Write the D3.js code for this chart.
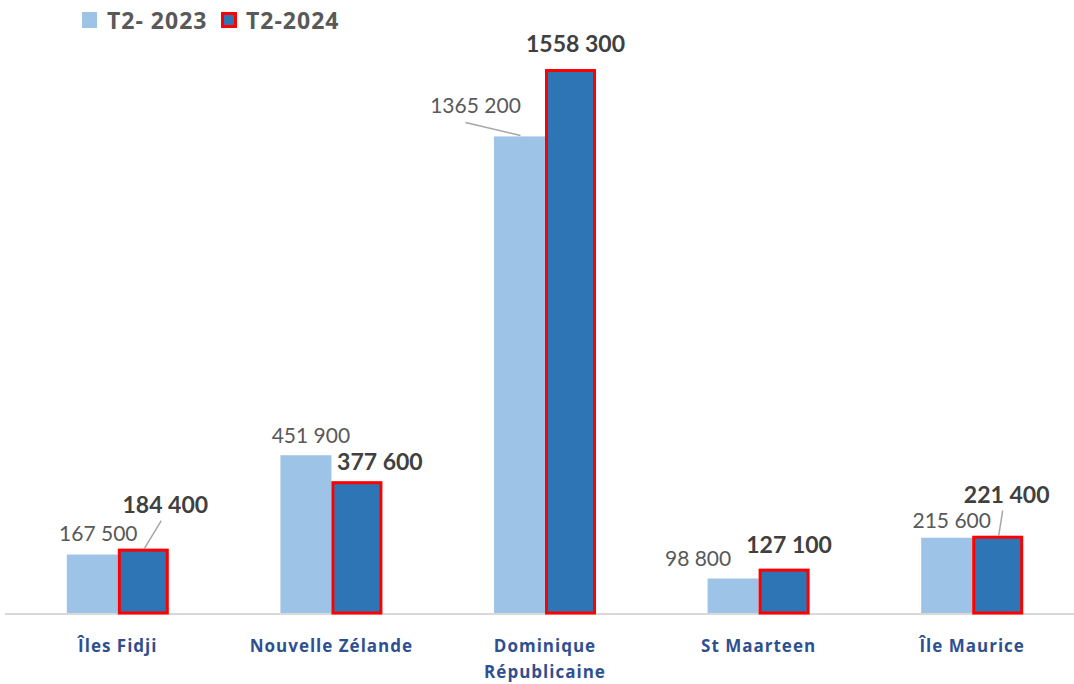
<!DOCTYPE html>
<html>
<head>
<meta charset="utf-8">
<script src="https://cdn.jsdelivr.net/npm/d3@7"></script>
<style>
  body { margin: 0; background: #fff; }
  svg { display: block; font-family: "Lato", "Open Sans", sans-serif; }
</style>
</head>
<body>
<svg width="1074" height="684"></svg>
<script>
const categories = ["Îles Fidji", "Nouvelle Zélande", "Dominique\nRépublicaine", "St Maarteen", "Île Maurice"];
const keys = ["T2- 2023", "T2-2024"];
const values2023 = [167500, 451900, 1365200, 98800, 215600];
const values2024 = [184400, 377600, 1558300, 127100, 221400];

// label nudges (dx, dy from bar top centre), leader lines where Excel drew them
const labelOffset2023 = [[6, -14], [5, -12], [-44, -23], [-35, -13], [5, -10]];
const labelOffset2024 = [[22, -36], [23, -11], [5, -17], [5, -16], [9, -33]];
const leader2023 = [false, false, true, false, false];
const leader2024 = [true, false, false, false, true];

const svg = d3.select("svg");
const baseY = 613;

const data = categories.map((c, i) => ({ cat: c, i, v: [values2023[i], values2024[i]] }));

const x0 = d3.scaleBand().domain(categories).range([11, 1079]).padding(0);
const barW = 51;
const x1 = d3.scaleBand().domain(keys)
  .range([x0.bandwidth() / 2 - barW, x0.bandwidth() / 2 + barW]).padding(0);
const y = d3.scaleLinear().domain([0, 1756000]).range([baseY, 0]);

const colors = ["#9DC3E6", "#2E75B6"];

// axis line
svg.append("line")
  .attr("x1", 5).attr("x2", 1074)
  .attr("y1", baseY + 1).attr("y2", baseY + 1)
  .attr("stroke", "#d9d9d9").attr("stroke-width", 2);

const groups = svg.selectAll(".cat")
  .data(data)
  .enter().append("g")
  .attr("class", "cat")
  .attr("transform", d => `translate(${x0(d.cat)},0)`);

// light bars
groups.append("rect")
  .attr("x", x1(keys[0]))
  .attr("y", d => y(d.v[0]))
  .attr("width", x1.bandwidth())
  .attr("height", d => baseY - y(d.v[0]))
  .attr("fill", colors[0]);

// dark bars with red outline
groups.append("rect")
  .attr("x", x1(keys[1]) + 1.5)
  .attr("y", d => y(d.v[1]) + 1.5)
  .attr("width", x1.bandwidth() - 3)
  .attr("height", d => baseY - y(d.v[1]) - 1.5)
  .attr("fill", colors[1])
  .attr("stroke", "#FF0000")
  .attr("stroke-width", 3);

// Excel-style: only the last group of thousands is split off
const fmt = v => Math.floor(v / 1000) + " " + String(v % 1000).padStart(3, "0");

// 2023 labels
groups.each(function(d) {
  const g = d3.select(this);
  const cx = x1(keys[0]) + x1.bandwidth() / 2;
  const top = y(d.v[0]);
  const [dx, dy] = labelOffset2023[d.i];
  if (leader2023[d.i]) {
    g.append("line")
      .attr("x1", cx + dx - 10).attr("y1", top + dy + 9)
      .attr("x2", cx + 1).attr("y2", top - 1)
      .attr("stroke", "#a6a6a6").attr("stroke-width", 1.5);
  }
  g.append("text")
    .attr("x", cx + dx).attr("y", top + dy)
    .attr("text-anchor", "middle")
    .attr("fill", "#595959")
    .style("font-size", "21px")
    .style("font-weight", "normal")
    .text(fmt(d.v[0]));
});

// 2024 labels
groups.each(function(d) {
  const g = d3.select(this);
  const cx = x1(keys[1]) + x1.bandwidth() / 2;
  const top = y(d.v[1]);
  const [dx, dy] = labelOffset2024[d.i];
  if (leader2024[d.i]) {
    g.append("line")
      .attr("x1", cx + dx - 4).attr("y1", top + dy + 8)
      .attr("x2", cx + 1).attr("y2", top)
      .attr("stroke", "#a6a6a6").attr("stroke-width", 1.5);
  }
  g.append("text")
    .attr("x", cx + dx).attr("y", top + dy)
    .attr("text-anchor", "middle")
    .attr("fill", "#404040")
    .style("font-size", "23px")
    .style("font-weight", "bold")
    .text(fmt(d.v[1]));
});

// category labels
groups.append("text")
  .attr("x", x0.bandwidth() / 2)
  .attr("y", 652)
  .attr("text-anchor", "middle")
  .attr("fill", "#2F5090")
  .style("font-family", "'Open Sans', sans-serif")
  .style("font-size", "17px")
  .style("font-weight", "bold")
  .style("letter-spacing", "1px")
  .selectAll("tspan")
  .data(d => d.cat.split("\n"))
  .enter().append("tspan")
  .attr("x", x0.bandwidth() / 2)
  .attr("dy", (t, i) => i === 0 ? 0 : 26)
  .text(t => t);

// legend
const legend = svg.append("g").attr("class", "legend");
const legendX = [82, 221];
keys.forEach((k, i) => {
  const item = legend.append("g").attr("transform", `translate(${legendX[i]},12)`);
  if (i === 0) {
    item.append("rect").attr("width", 15).attr("height", 16).attr("fill", colors[0]);
  } else {
    item.append("rect").attr("x", 1.5).attr("y", 1.5).attr("width", 13).attr("height", 13)
      .attr("fill", colors[1]).attr("stroke", "#FF0000").attr("stroke-width", 3);
  }
  item.append("text")
    .attr("x", 25).attr("y", 17)
    .attr("fill", "#595959")
    .style("font-family", "'Open Sans', sans-serif")
    .style("font-size", "23px")
    .style("font-weight", "bold")
    .style("letter-spacing", "1px")
    .text(k);
});
</script>
</body>
</html>
